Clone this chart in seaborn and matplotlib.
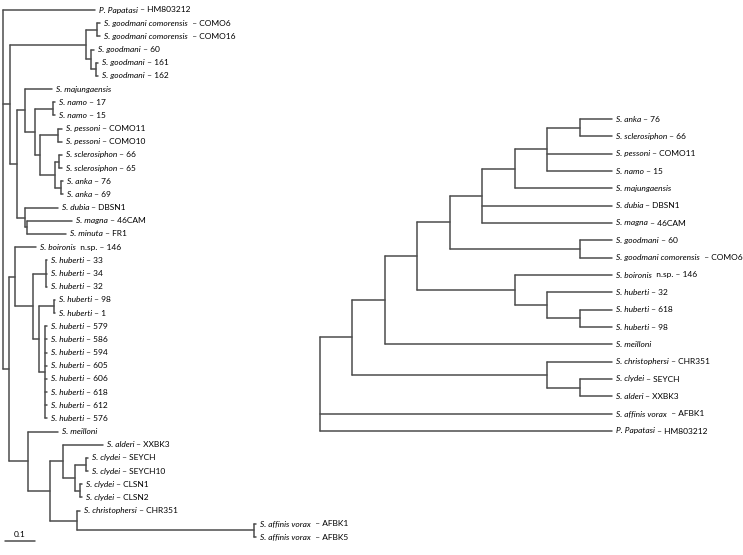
import matplotlib
matplotlib.use("Agg")
import matplotlib.pyplot as plt
import seaborn as sns
import pandas as pd

sns.set_theme(style="white")
plt.rcParams['font.family'] = ['Lato', 'DejaVu Sans']

# ---- left tree (branch lengths, substitutions/site) ----
left_species = [
    "P. Papatasi", "S. goodmani comorensis", "S. goodmani comorensis", "S. goodmani",
    "S. goodmani", "S. goodmani", "S. majungaensis", "S. namo", "S. namo",
    "S. pessoni", "S. pessoni", "S. sclerosiphon", "S. sclerosiphon", "S. anka", "S. anka",
    "S. dubia", "S. magna", "S. minuta", "S. boironis", "S. huberti", "S. huberti",
    "S. huberti", "S. huberti", "S. huberti", "S. huberti", "S. huberti", "S. huberti",
    "S. huberti", "S. huberti", "S. huberti", "S. huberti", "S. huberti", "S. meilloni",
    "S. alderi", "S. clydei", "S. clydei", "S. clydei", "S. clydei", "S. christophersi",
    "S. affinis vorax", "S. affinis vorax",
]
left_suffix = [
    " – HM803212", "  – COMO6", "  – COMO16", " – 60", " – 161", " – 162", "", " – 17", " – 15",
    " – COMO11", " – COMO10", " – 66", " – 65", " – 76", " – 69",
    " – DBSN1", " – 46CAM", " – FR1", "  n.sp. – 146", " – 33", " – 34",
    " – 32", " – 98", " – 1", " – 579", " – 586", " – 594",
    " – 605", " – 606", " – 618", " – 612", " – 576", "",
    " – XXBK3", " – SEYCH", " – SEYCH10", " – CLSN1", " – CLSN2", " – CHR351",
    "  – AFBK1", "  – AFBK5",
]
left_leaf_parent = [0, 3, 3, 4, 5, 5, 7, 9, 9, 11, 11, 13, 13, 14, 14, 15, 16, 16, 18,
                    20, 20, 20, 22, 22, 23, 23, 23, 23, 23, 23, 23, 23, 24,
                    26, 28, 28, 29, 29, 30, 31, 31]
left_leaf_depth = [0.307, 0.323, 0.323, 0.303, 0.317, 0.317, 0.163, 0.173, 0.173,
                   0.197, 0.197, 0.197, 0.197, 0.200, 0.200, 0.183, 0.230, 0.210, 0.110,
                   0.147, 0.147, 0.147, 0.173, 0.173, 0.147, 0.147, 0.147, 0.147, 0.147,
                   0.147, 0.147, 0.147, 0.183, 0.333, 0.283, 0.283, 0.263, 0.263, 0.257,
                   0.843, 0.843]
left_node_parent = [-1, 0, 1, 2, 2, 4, 1, 6, 7, 8, 8, 10, 10, 12, 12, 6, 15,
                    0, 17, 18, 19, 19, 21, 21, 17, 24, 25, 26, 27, 27, 25, 30]
left_node_depth = [0.000, 0.023, 0.277, 0.313, 0.293, 0.310, 0.047, 0.073, 0.107, 0.167,
                   0.123, 0.183, 0.173, 0.187, 0.193, 0.073, 0.080,
                   0.020, 0.040, 0.100, 0.143, 0.120, 0.170, 0.140, 0.083, 0.157,
                   0.200, 0.240, 0.277, 0.257, 0.247, 0.837]

# ---- right tree (cladogram, node rank) ----
right_species = [
    "S. anka", "S. sclerosiphon", "S. pessoni", "S. namo", "S. majungaensis", "S. dubia",
    "S. magna", "S. goodmani", "S. goodmani comorensis", "S. boironis", "S. huberti",
    "S. huberti", "S. huberti", "S. meilloni", "S. christophersi", "S. clydei", "S. alderi",
    "S. affinis vorax", "P. Papatasi",
]
right_suffix = [
    " – 76", " – 66", " – COMO11", " – 15", "", " – DBSN1", " – 46CAM", " – 60", "  – COMO6",
    "  n.sp. – 146", " – 32", " – 618", " – 98", "", " – CHR351", " – SEYCH", " – XXBK3",
    "  – AFBK1", " – HM803212",
]
right_leaf_parent = [8, 8, 7, 7, 6, 5, 5, 9, 9, 10, 11, 12, 12, 2, 13, 14, 14, 0, 0]
right_leaf_depth = [9] * 19
right_node_parent = [-1, 0, 1, 2, 3, 4, 5, 6, 7, 4, 3, 10, 11, 1, 13]
right_node_depth = [0, 1, 2, 3, 4, 5, 6, 7, 8, 8, 6, 7, 8, 7, 8]

LINE = "#4d4d4d"
FS = 6.0


def tree_segments(leaf_parent, leaf_depth, node_parent, node_depth):
    n = len(node_parent)
    node_y = [None] * n
    kids = [[] for _ in range(n)]
    for i, p in enumerate(leaf_parent):
        kids[p].append(("leaf", i, float(i)))
    for j in range(n - 1, -1, -1):
        for j2 in range(j + 1, n):
            if node_parent[j2] == j:
                kids[j].append(("node", j2, node_y[j2]))
        ys = [k[2] for k in kids[j]]
        node_y[j] = (min(ys) + max(ys)) / 2
    rows = []
    seg = 0
    for j in range(n):
        ys = [k[2] for k in kids[j]]
        rows += [(node_depth[j], min(ys), seg), (node_depth[j], max(ys), seg)]
        seg += 1
        for kind, idx, y in kids[j]:
            d = leaf_depth[idx] if kind == "leaf" else node_depth[idx]
            rows += [(node_depth[j], y, seg), (d, y, seg)]
            seg += 1
    return pd.DataFrame(rows, columns=["x", "y", "seg"])


def draw_tree(ax, species, suffix, leaf_parent, leaf_depth, node_parent, node_depth):
    df = tree_segments(leaf_parent, leaf_depth, node_parent, node_depth)
    sns.lineplot(data=df, x="x", y="y", units="seg", estimator=None, sort=False,
                 color=LINE, linewidth=1.1, ax=ax, legend=False)
    for i, (sp, sf) in enumerate(zip(species, suffix)):
        t = ax.annotate(sp, xy=(leaf_depth[i], i), xytext=(4, 0), textcoords="offset pixels",
                        va="center", ha="left", fontsize=FS, style="italic", color="black")
        if sf:
            ax.annotate(sf, xy=(1, 0.5), xycoords=t, va="center", ha="left",
                        fontsize=FS, color="black")


W, H = 743, 555
fig = plt.figure(figsize=(W / 100, H / 100), dpi=100)

# left axes: depth 0 at px 3, 0.1 = 30 px; leaf 0 at px 10, leaf 40 at px 537
ax1 = fig.add_axes([0, 0, 1, 1])
x0, sx = 3, 300.0
y0, sy = 10, (537 - 10) / 40
draw_tree(ax1, left_species, left_suffix, left_leaf_parent, left_leaf_depth,
          left_node_parent, left_node_depth)
ax1.set_xlim(-x0 / sx, (W - x0) / sx)
ax1.set_ylim((H - y0) / sy, -y0 / sy)
# scale bar
bar_y = (541 - y0) / sy
ax1.plot([0.0067, 0.1067], [bar_y, bar_y], color=LINE, linewidth=1.1)
ax1.annotate("0.1", xy=(0.0567, bar_y), xytext=(0, 3), textcoords="offset pixels",
             ha="center", va="bottom", fontsize=FS, color="black")
ax1.axis("off")

# right axes: rank 0 at px 320, rank 9 at px 612; leaf 0 at px 119, leaf 18 at px 431
ax2 = fig.add_axes([0, 0, 1, 1])
ax2.patch.set_alpha(0)
rx0, rsx = 320, (612 - 320) / 9
ry0, rsy = 119, (431 - 119) / 18
draw_tree(ax2, right_species, right_suffix, right_leaf_parent, right_leaf_depth,
          right_node_parent, right_node_depth)
ax2.set_xlim(-rx0 / rsx, (W - rx0) / rsx)
ax2.set_ylim((H - ry0) / rsy, -ry0 / rsy)
ax2.axis("off")

fig.savefig("out.png", dpi=100, facecolor="white")
